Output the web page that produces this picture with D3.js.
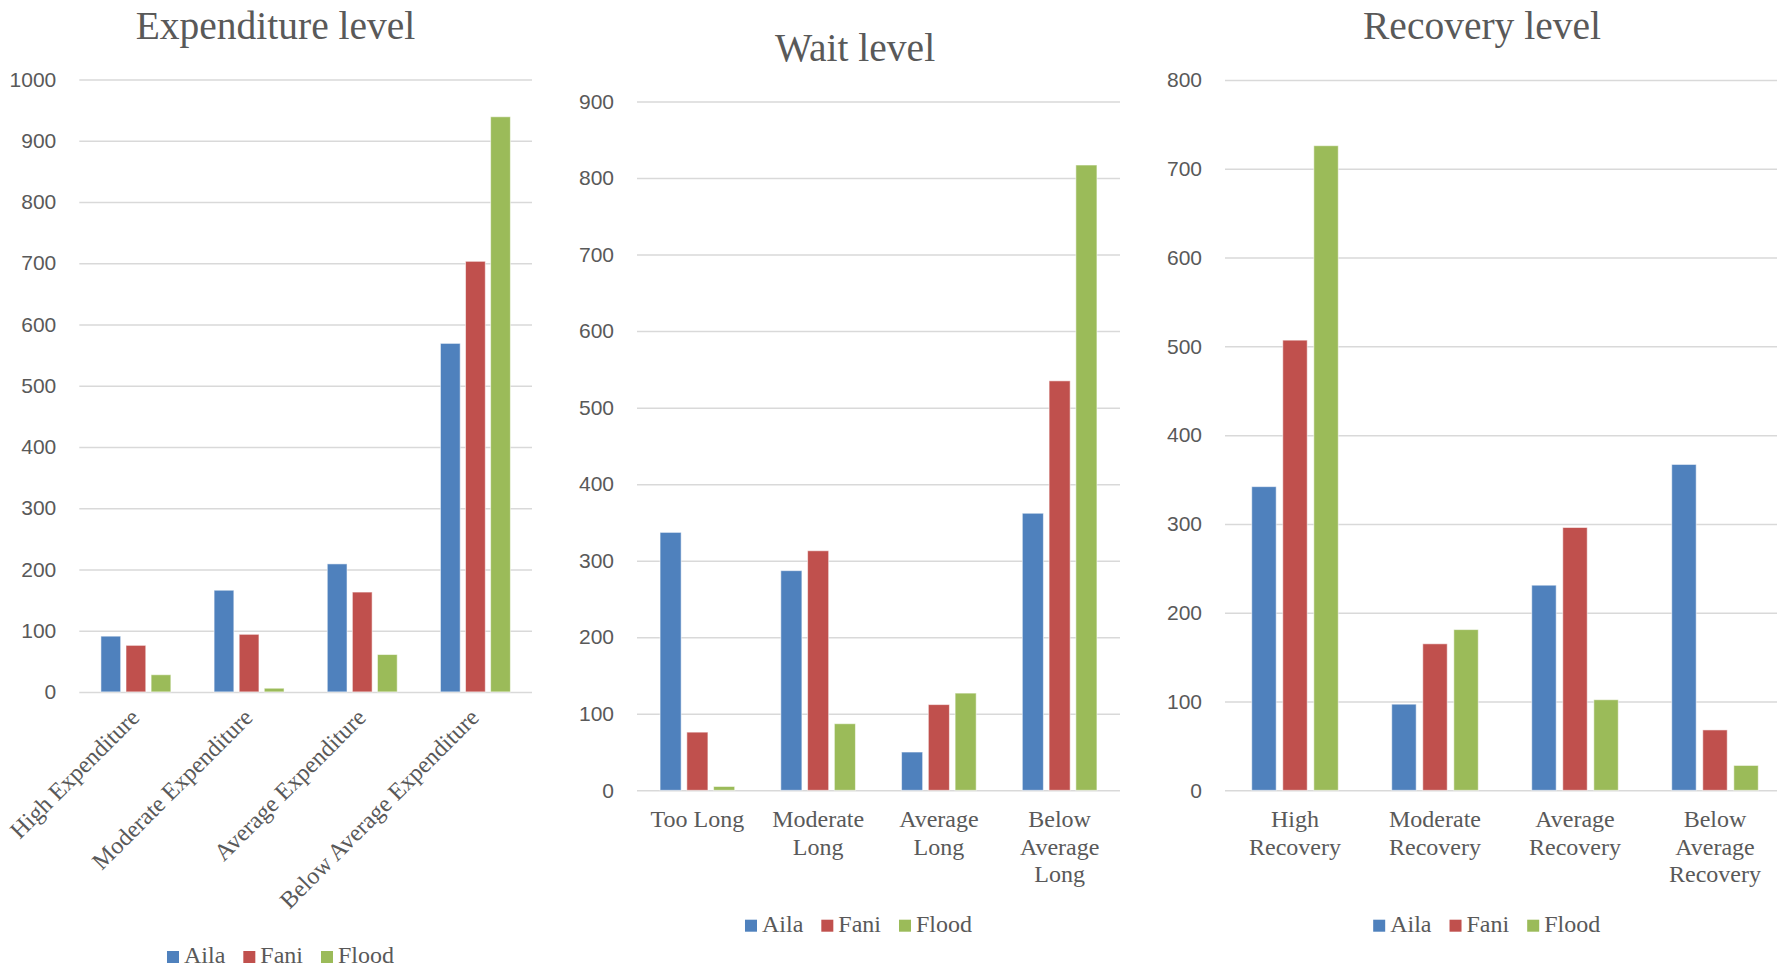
<!DOCTYPE html>
<html>
<head>
<meta charset="utf-8">
<script src="https://cdn.jsdelivr.net/npm/d3@7"></script>
<style>
  html, body { margin: 0; padding: 0; background: #ffffff; }
  svg { display: block; }
</style>
</head>
<body>
<svg id="chart" width="1777" height="967"></svg>
<script>
// ---- data ----
const seriesNames = ["Aila", "Fani", "Flood"];
const seriesColors = ["#4F81BD", "#C0504D", "#9BBB59"];

const expenditureCategories = ["High Expenditure", "Moderate Expenditure", "Average Expenditure", "Below Average Expenditure"];
const expenditureAila  = [91, 166, 209, 569];
const expenditureFani  = [76, 94, 163, 703];
const expenditureFlood = [28, 6, 61, 939];
const expenditureTicks = [0, 100, 200, 300, 400, 500, 600, 700, 800, 900, 1000];

const waitCategories = ["Too Long", "Moderate Long", "Average Long", "Below Average Long"];
const waitAila  = [337, 287, 50, 362];
const waitFani  = [76, 313, 112, 535];
const waitFlood = [5, 87, 127, 817];
const waitTicks = [0, 100, 200, 300, 400, 500, 600, 700, 800, 900];

const recoveryCategories = ["High Recovery", "Moderate Recovery", "Average Recovery", "Below Average Recovery"];
const recoveryAila  = [342, 97, 231, 367];
const recoveryFani  = [507, 165, 296, 68];
const recoveryFlood = [726, 181, 102, 28];
const recoveryTicks = [0, 100, 200, 300, 400, 500, 600, 700, 800];

// ---- styling ----
const textColor = "#595959";
const gridColor = "#d9d9d9";
const serif = "'Liberation Serif', 'Times New Roman', serif";
const sans = "'Liberation Sans', Arial, sans-serif";

const svg = d3.select("#chart");

// greedy word wrap into tspans
function wrap(textEl, width, lineHeight) {
  const words = textEl.text().split(/\s+/);
  textEl.text(null);
  const x = textEl.attr("x");
  let line = [];
  let tspan = textEl.append("tspan").attr("x", x).attr("dy", 0);
  words.forEach(w => {
    line.push(w);
    tspan.text(line.join(" "));
    if (tspan.node().getComputedTextLength() > width && line.length > 1) {
      line.pop();
      tspan.text(line.join(" "));
      line = [w];
      tspan = textEl.append("tspan").attr("x", x).attr("dy", lineHeight).text(w);
    }
  });
}

function drawChart(cfg) {
  const g = svg.append("g");
  const values = [cfg.aila, cfg.fani, cfg.flood];
  const rows = cfg.categories.map((c, i) => ({
    category: c,
    vals: seriesNames.map((s, k) => ({ series: s, value: values[k][i], color: seriesColors[k] }))
  }));

  const yMax = cfg.ticks[cfg.ticks.length - 1];
  const y = d3.scaleLinear().domain([0, yMax]).range([cfg.bottom, cfg.top]);

  // clustered bars: gap width 219%, overlap -27%
  const x0 = d3.scaleBand().domain(cfg.categories).range([cfg.left, cfg.right])
    .paddingInner(0.382).paddingOuter(0.191);
  const x1 = d3.scaleBand().domain(seriesNames).range([0, x0.bandwidth()])
    .paddingInner(0.2126).paddingOuter(0);

  // gridlines + tick labels
  const yAxis = d3.axisLeft(y).tickValues(cfg.ticks).tickFormat(d3.format("d"))
    .tickSize(-(cfg.gridRight - cfg.left)).tickPadding(23);
  const ax = g.append("g").attr("transform", `translate(${cfg.left},0)`).call(yAxis);
  ax.select(".domain").remove();
  ax.selectAll(".tick line").attr("stroke", gridColor).attr("stroke-width", 1.5);
  ax.selectAll(".tick text")
    .attr("fill", textColor)
    .style("font-family", sans)
    .style("font-size", "21px");

  // bars
  const groups = g.append("g").selectAll("g").data(rows).join("g")
    .attr("transform", d => `translate(${x0(d.category)},0)`);
  groups.selectAll("rect").data(d => d.vals).join("rect")
    .attr("x", d => x1(d.series))
    .attr("width", x1.bandwidth())
    .attr("y", d => y(d.value))
    .attr("height", d => y(0) - y(d.value))
    .attr("fill", d => d.color)
    .attr("stroke", "rgba(255,255,255,0.55)")
    .attr("stroke-width", 1);

  // title
  g.append("text")
    .attr("x", cfg.titleX).attr("y", cfg.titleY)
    .attr("text-anchor", "middle")
    .attr("fill", textColor)
    .style("font-family", serif).style("font-size", "39.5px")
    .text(cfg.title);

  // category labels
  if (cfg.rotate) {
    g.append("g").selectAll("text").data(cfg.categories).join("text")
      .attr("transform", d => `translate(${x0(d) + x0.bandwidth() / 2 + 5},${cfg.bottom + 27}) rotate(-45)`)
      .attr("text-anchor", "end")
      .attr("fill", textColor)
      .style("font-family", serif).style("font-size", "24px")
      .text(d => d);
  } else {
    g.append("g").selectAll("text").data(cfg.categories).join("text")
      .attr("x", d => x0(d) + x0.bandwidth() / 2)
      .attr("y", cfg.labelY)
      .attr("text-anchor", "middle")
      .attr("fill", textColor)
      .style("font-family", serif).style("font-size", "24px")
      .text(d => d)
      .each(function () { wrap(d3.select(this), cfg.wrapWidth, 27.5); });
  }

  // legend
  const lg = g.append("g");
  let cursor = 0;
  seriesNames.forEach((s, k) => {
    const item = lg.append("g").attr("transform", `translate(${cursor},0)`);
    item.append("rect").attr("x", 0).attr("y", -12).attr("width", 12).attr("height", 12)
      .attr("fill", seriesColors[k]);
    const t = item.append("text").attr("x", 17).attr("y", 0)
      .attr("fill", textColor)
      .style("font-family", serif).style("font-size", "24px")
      .text(s);
    cursor += 17 + t.node().getComputedTextLength() + 18;
  });
  const legendWidth = cursor - 18;
  lg.attr("transform", `translate(${cfg.legendX - legendWidth / 2},${cfg.legendY})`);
}

drawChart({
  title: "Expenditure level", categories: expenditureCategories,
  aila: expenditureAila, fani: expenditureFani, flood: expenditureFlood, ticks: expenditureTicks,
  left: 79.3, right: 532, gridRight: 532, top: 79.4, bottom: 691.9,
  titleX: 275.5, titleY: 39, rotate: true,
  legendX: 280.5, legendY: 963
});

drawChart({
  title: "Wait level", categories: waitCategories,
  aila: waitAila, fani: waitFani, flood: waitFlood, ticks: waitTicks,
  left: 637, right: 1120, gridRight: 1120, top: 101.5, bottom: 790.3,
  titleX: 855, titleY: 61, rotate: false, labelY: 827, wrapWidth: 120,
  legendX: 858.5, legendY: 931.7
});

drawChart({
  title: "Recovery level", categories: recoveryCategories,
  aila: recoveryAila, fani: recoveryFani, flood: recoveryFlood, ticks: recoveryTicks,
  left: 1225, right: 1785, gridRight: 1785, top: 80, bottom: 790.3,
  titleX: 1482, titleY: 39, rotate: false, labelY: 827, wrapWidth: 138,
  legendX: 1486.7, legendY: 931.7
});
</script>
</body>
</html>
